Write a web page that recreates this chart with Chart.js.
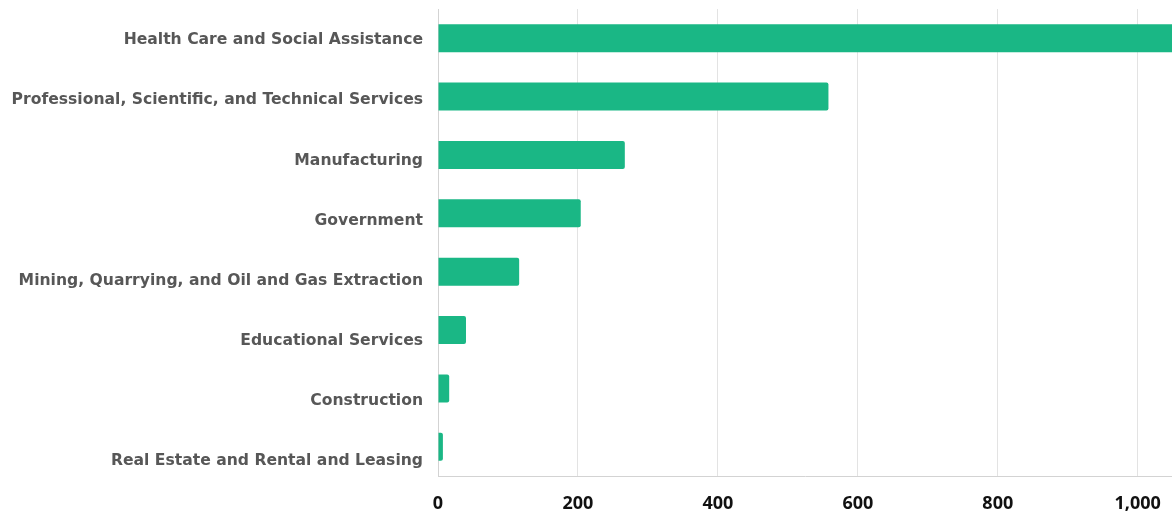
<!DOCTYPE html>
<html>
<head>
<meta charset="utf-8">
<script src="https://cdn.jsdelivr.net/npm/chart.js@4.4.1/dist/chart.umd.min.js"></script>
<style>
  html, body { margin: 0; padding: 0; background: #ffffff; }
  #wrap { width: 1172px; height: 515px; position: relative; }
</style>
</head>
<body>
<div id="wrap"><canvas id="chart"></canvas></div>
<script>
// Industries, largest first
const industries = [
  "Health Care and Social Assistance",
  "Professional, Scientific, and Technical Services",
  "Manufacturing",
  "Government",
  "Mining, Quarrying, and Oil and Gas Extraction",
  "Educational Services",
  "Construction",
  "Real Estate and Rental and Leasing"
];
const counts = [1100, 558, 267, 204, 116, 40, 16, 7];

const axisMax = 1049;
const tickValues = [0, 200, 400, 600, 800, 1000];

// Category labels drawn beside the bars; each sits a little lower than the one above
const categoryLabels = {
  id: "categoryLabels",
  afterDraw(chart) {
    const { ctx, chartArea, scales } = chart;
    const y = scales.y;
    ctx.save();
    ctx.font = "bold 15.6px 'DejaVu Sans'";
    ctx.fillStyle = "#575757";
    ctx.textAlign = "right";
    ctx.textBaseline = "middle";
    industries.forEach((name, i) => {
      ctx.fillText(name, chartArea.left - 15, y.getPixelForValue(i) + 2 + 1.8 * i);
    });
    ctx.restore();
  }
};

new Chart(document.getElementById("chart"), {
  type: "bar",
  data: {
    labels: industries,
    datasets: [{
      data: counts,
      backgroundColor: "#1ab785",
      borderRadius: 2,
      borderSkipped: "start",
      barPercentage: 0.48,
      categoryPercentage: 1.0
    }]
  },
  plugins: [categoryLabels],
  options: {
    indexAxis: "y",
    responsive: true,
    maintainAspectRatio: false,
    animation: false,
    layout: { padding: { top: 9, right: 0, bottom: 0, left: 0 } },
    plugins: { legend: { display: false }, tooltip: { enabled: false } },
    scales: {
      x: {
        min: 0,
        max: axisMax,
        afterBuildTicks: s => { s.ticks = tickValues.map(v => ({ value: v })); },
        ticks: {
          color: "#111111",
          font: { family: "Open Sans", weight: "bold", size: 18 },
          padding: 17,
          maxRotation: 0,
          autoSkip: false,
          callback: v => v.toLocaleString("en-US")
        },
        grid: { color: "#e3e3e3", drawTicks: false, lineWidth: 1 },
        border: { color: "#d3d3d3", width: 1 },
        afterFit: s => { s.height = 39; s.paddingRight = 0; s.paddingLeft = 0; }
      },
      y: {
        ticks: { display: false },
        grid: { display: false, drawTicks: false },
        border: { color: "#d3d3d3", width: 1 },
        afterFit: s => { s.width = 438; }
      }
    }
  }
});
</script>
</body>
</html>
